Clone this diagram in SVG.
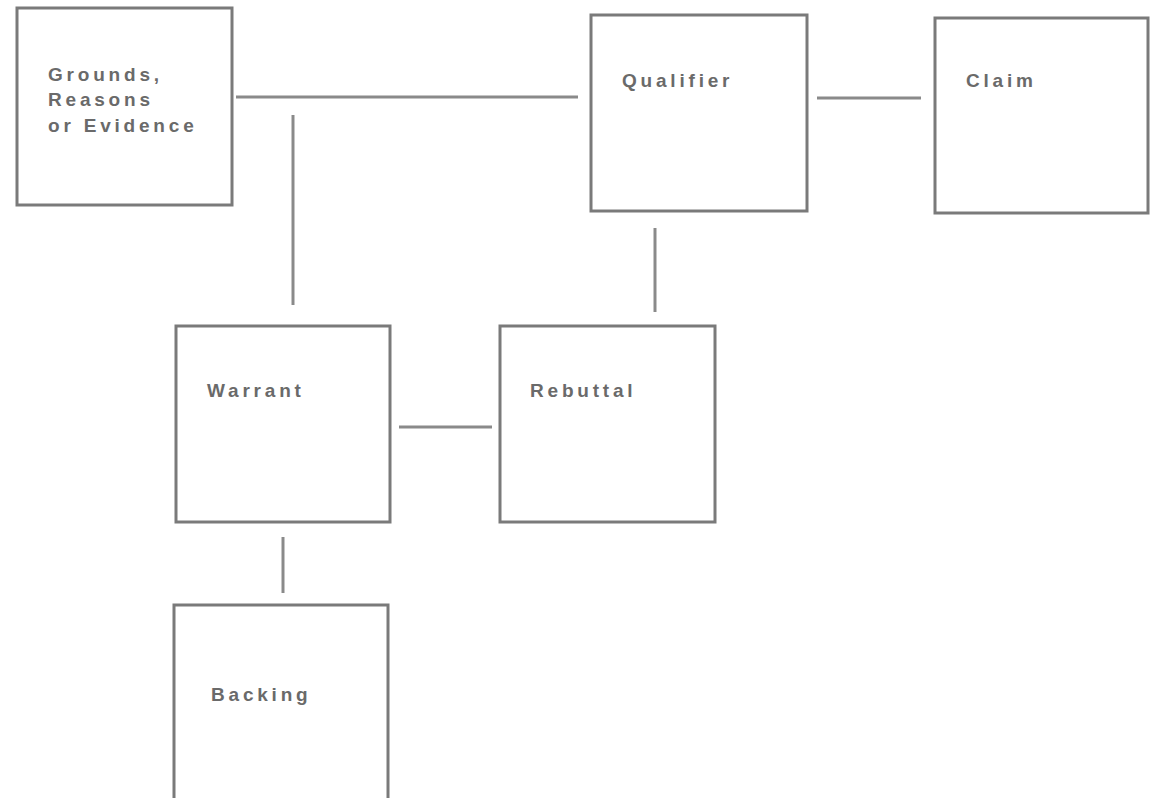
<svg xmlns="http://www.w3.org/2000/svg" width="1151" height="798" viewBox="0 0 1151 798">
<style>
.box{fill:#fff;stroke:#7a7a7a;stroke-width:3}
.lbl{font-family:"Liberation Sans",Arial,sans-serif;font-size:19px;fill:#6a6a6a;font-weight:bold;letter-spacing:3.8px}
.con{stroke:#8a8a8a;stroke-width:3;fill:none}
</style>
<rect width="1151" height="798" fill="#fff"/>
<g id="connectors">
<line class="con" x1="236" y1="97" x2="578" y2="97"/>
<line class="con" x1="293" y1="115" x2="293" y2="305"/>
<line class="con" x1="817" y1="98" x2="921" y2="98"/>
<line class="con" x1="655" y1="228" x2="655" y2="312"/>
<line class="con" x1="399" y1="427" x2="492" y2="427"/>
<line class="con" x1="283" y1="537" x2="283" y2="593"/>
</g>
<g id="grounds">
<rect class="box" x="17" y="8" width="215" height="197"/>
<text class="lbl" x="48" y="81">Grounds,</text>
<text class="lbl" x="48" y="106">Reasons</text>
<text class="lbl" x="48" y="132">or Evidence</text>
</g>
<g id="qualifier">
<rect class="box" x="591" y="15" width="216" height="196"/>
<text class="lbl" x="622" y="87">Qualifier</text>
</g>
<g id="claim">
<rect class="box" x="935" y="18" width="213" height="195"/>
<text class="lbl" x="966" y="87">Claim</text>
</g>
<g id="warrant">
<rect class="box" x="176" y="326" width="214" height="196"/>
<text class="lbl" x="207" y="397">Warrant</text>
</g>
<g id="rebuttal">
<rect class="box" x="500" y="326" width="215" height="196"/>
<text class="lbl" x="530" y="397">Rebuttal</text>
</g>
<g id="backing">
<rect class="box" x="174" y="605" width="214" height="210"/>
<text class="lbl" x="211" y="701">Backing</text>
</g>
</svg>
